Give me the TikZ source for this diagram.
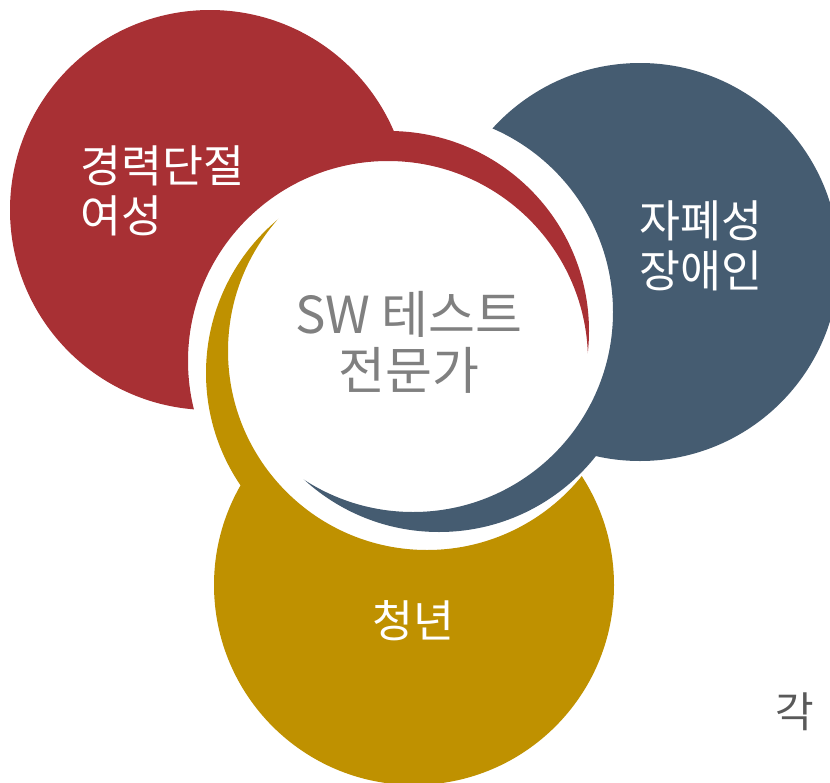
\documentclass[tikz,border=0pt]{standalone}
\usepackage{fontspec}
\newfontfamily\kofont{Noto Sans CJK KR}
\usetikzlibrary{positioning}

\definecolor{crimson}{RGB}{168,48,52}
\definecolor{slate}{RGB}{69,92,113}
\definecolor{gold}{RGB}{191,145,0}
\definecolor{midgray}{RGB}{128,128,128}
\definecolor{textgray}{RGB}{89,89,89}

\begin{document}
\begin{tikzpicture}[x=1pt,y=-1pt]
  \tikzset{side label/.style={text=white,
                              align=left,
                              inner sep=0pt,
                              font=\kofont\fontsize{44.5}{49.5}\selectfont},
           centre label/.style={text=midgray,
                                align=center,
                                inner sep=0pt,
                                font=\kofont\fontsize{51}{56}\selectfont}
                                }

%%%%%%%%%%%%%%%%%%%%%%%%%%%%%%%%%%%%%%%%%%%%%%%%%%%%%%%%%%%%%%%%%%%%%%%%%%%%%%

\useasboundingbox (0,0) rectangle (830,782);

%% big circles and the two circles of each crescent
\coordinate (BR) at (210,210);
\coordinate (RO) at (389,331);
\coordinate (RI) at (388,361);

\coordinate (BB) at (640,262);
\coordinate (BO) at (439,332);
\coordinate (BI) at (413,312);

\coordinate (BY) at (414,585);
\coordinate (YO) at (406,373);
\coordinate (YI) at (427,351);

%%%%%%%%%%%%%%%%%%%%%%%%%%%%%%%%%%%%%%%%%%%%%%%%%%%%%%%%%%%%%%%%%%%%%%%%%%%%%%

\begin{scope}[even odd rule]
  \clip (-20,-20) rectangle (850,800) (RI) circle (200pt);
  \fill[nonzero rule, crimson] (BR) circle (200pt) (RO) circle (200pt);
\end{scope}

\begin{scope}[even odd rule]
  \clip (-20,-20) rectangle (850,800) (BI) circle (200pt);
  \fill[nonzero rule, slate] (BB) circle (199pt) (BO) circle (200pt);
\end{scope}

\begin{scope}[even odd rule]
  \clip (-20,-20) rectangle (850,800) (YI) circle (199pt);
  \fill[nonzero rule, gold] (BY) circle (200pt) (YO) circle (200pt);
\end{scope}

%%%%%%%%%%%%%%%%%%%%%%%%%%%%%%%%%%%%%%%%%%%%%%%%%%%%%%%%%%%%%%%%%%%%%%%%%%%%%%

\node[side label, anchor=west] (CBW) at (80,191) {경력단절\\여성};

\node[side label, anchor=west] (AD) at (639,246) {자폐성\\장애인};

\node[side label] (YTH) at (413,621) {청년};

\node[centre label] (SWT) at (409,342) {SW 테스트\\전문가};

\node[text=textgray, inner sep=0pt, font=\kofont\fontsize{42}{49}\selectfont] (GAK) at (795,712) {각};

%%%%%%%%%%%%%%%%%%%%%%%%%%%%%%%%%%%%%%%%%%%%%%%%%%%%%%%%%%%%%%%%%%%%%%%%%%%%%%

\end{tikzpicture}
\end{document}
